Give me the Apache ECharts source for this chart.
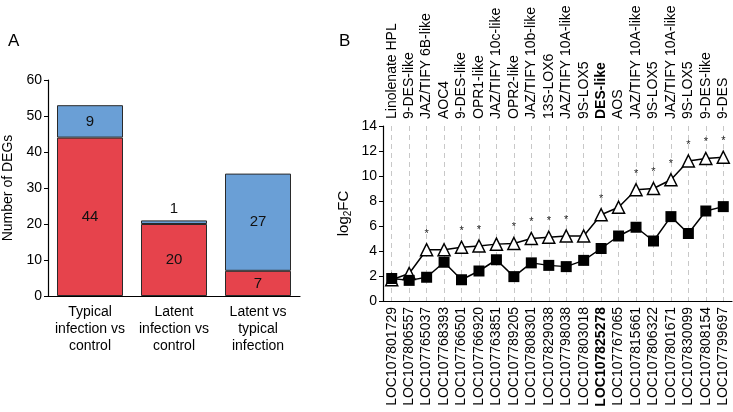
<!DOCTYPE html>
<html>
<head>
<meta charset="utf-8">
<script src="https://cdn.jsdelivr.net/npm/echarts@6/dist/echarts.min.js"></script>
<style>
    html, body { margin: 0; padding: 0; background: #fff; }
    #chart { width: 733px; height: 412px; }
</style>
</head>
<body>
<div id="chart"></div>
<script>
    // panel A: DEG counts
    const groups = ['Typical\ninfection vs\ncontrol', 'Latent\ninfection vs\ncontrol', 'Latent vs\ntypical\ninfection'];
    const upDEGs = [44, 20, 7];
    const downDEGs = [9, 1, 27];

    // panel B: log2FC per gene
    const geneNames = ['Linolenate HPL', '9-DES-like', 'JAZ/TIFY 6B-like', 'AOC4', '9-DES-like', 'OPR1-like',
        'JAZ/TIFY 10c-like', 'OPR2-like', 'JAZ/TIFY 10b-like', '13S-LOX6', 'JAZ/TIFY 10A-like', '9S-LOX5',
        'DES-like', 'AOS', 'JAZ/TIFY 10A-like', '9S-LOX5', 'JAZ/TIFY 10A-like', '9S-LOX5', '9-DES-like', '9-DES'];
    const geneIds = ['LOC107801729', 'LOC107806557', 'LOC107765037', 'LOC107768393', 'LOC107766501', 'LOC107766920',
        'LOC107763851', 'LOC107789205', 'LOC107808301', 'LOC107829038', 'LOC107798038', 'LOC107803018',
        'LOC107825278', 'LOC107767065', 'LOC107815661', 'LOC107806322', 'LOC107801671', 'LOC107830099',
        'LOC107808154', 'LOC107799697'];
    const triangleFC = [1.7, 2.2, 4.1, 4.1, 4.3, 4.4, 4.55, 4.6, 5.0, 5.1, 5.2, 5.2,
        6.9, 7.5, 8.9, 9.0, 9.7, 11.2, 11.4, 11.5];
    const squareFC = [1.8, 1.65, 1.9, 3.1, 1.7, 2.4, 3.3, 1.95, 3.05, 2.85, 2.75, 3.25,
        4.2, 5.2, 5.9, 4.8, 6.75, 5.4, 7.2, 7.55];
    const starred = [2, 4, 5, 7, 8, 9, 10, 12, 14, 15, 16, 17, 18, 19];
    const boldIndex = 12;

    let myChart = echarts.init(document.getElementById('chart'))

    const font = 'Liberation Sans, Arial, sans-serif'

    function boldFmt(value, index) {
        return index === boldIndex ? '{b|' + value + '}' : value
    }

    myChart.setOption({
        animation: false,
        textStyle: { fontFamily: font },
        title: [
            { text: 'A', left: 3, top: 28, textStyle: { fontSize: 17, fontWeight: 'normal', color: '#000', fontFamily: font } },
            { text: 'B', left: 334, top: 28, textStyle: { fontSize: 17, fontWeight: 'normal', color: '#000', fontFamily: font } }
        ],
        grid: [
            { left: 48, top: 80, width: 252, height: 216 },
            { left: 383, top: 126, width: 349, height: 175 }
        ],
        xAxis: [
            {
                type: 'category',
                gridIndex: 0,
                data: groups,
                axisLine: { lineStyle: { color: '#000', width: 1.2 } },
                axisTick: { show: false },
                axisLabel: { interval: 0, color: '#000', fontSize: 14, lineHeight: 17, margin: 8 }
            },
            {
                type: 'category',
                gridIndex: 1,
                position: 'bottom',
                data: geneIds,
                axisLine: { lineStyle: { color: '#000', width: 1.2 } },
                axisTick: { show: false },
                axisLabel: {
                    rotate: 90, interval: 0, color: '#000', fontSize: 14, margin: 6,
                    formatter: boldFmt,
                    rich: { b: { fontWeight: 'bold', fontSize: 14, color: '#000' } }
                },
                splitLine: {
                    show: true,
                    alignWithLabel: true,
                    lineStyle: { color: '#c8c8c8', type: [5, 4], width: 1 }
                }
            },
            {
                type: 'category',
                gridIndex: 1,
                position: 'top',
                data: geneNames,
                axisLine: { show: false },
                axisTick: { show: false },
                axisLabel: {
                    rotate: -90, interval: 0, color: '#000', fontSize: 14, margin: 7,
                    formatter: boldFmt,
                    rich: { b: { fontWeight: 'bold', fontSize: 14, color: '#000' } }
                }
            }
        ],
        yAxis: [
            {
                type: 'value',
                gridIndex: 0,
                min: 0,
                max: 60,
                interval: 10,
                name: 'Number of DEGs',
                nameLocation: 'middle',
                nameGap: 33,
                nameTextStyle: { color: '#000', fontSize: 14 },
                axisLine: { show: true, lineStyle: { color: '#000', width: 1.2 } },
                axisTick: { show: true, length: 4, lineStyle: { color: '#000' } },
                axisLabel: { color: '#000', fontSize: 14, margin: 6 },
                splitLine: { show: false }
            },
            {
                type: 'value',
                gridIndex: 1,
                min: 0,
                max: 14,
                interval: 2,
                name: 'log{s|2}FC',
                nameLocation: 'middle',
                nameGap: 30,
                nameTextStyle: {
                    color: '#000', fontSize: 15,
                    rich: { s: { fontSize: 10, verticalAlign: 'bottom', padding: [9, 0, 0, 0], color: '#000' } }
                },
                axisLine: { show: true, lineStyle: { color: '#000', width: 1.2 } },
                axisTick: { show: true, length: 4, lineStyle: { color: '#000' } },
                axisLabel: { color: '#000', fontSize: 14, margin: 6 },
                splitLine: { show: false }
            }
        ],
        series: [
            {
                type: 'bar',
                stack: 'degs',
                xAxisIndex: 0,
                yAxisIndex: 0,
                barWidth: 66,
                data: upDEGs,
                itemStyle: { color: '#e6434c', borderColor: '#2a2a2a', borderWidth: 1 },
                label: { show: true, position: 'inside', color: '#111', fontSize: 15 }
            },
            {
                type: 'bar',
                stack: 'degs',
                xAxisIndex: 0,
                yAxisIndex: 0,
                barWidth: 66,
                data: downDEGs.map(function (v) {
                    return v < 3 ? { value: v, label: { position: 'top', distance: 4 } } : v
                }),
                itemStyle: { color: '#6a9fd6', borderColor: '#2a2a2a', borderWidth: 1 },
                label: { show: true, position: 'inside', color: '#111', fontSize: 15 }
            },
            {
                type: 'line',
                xAxisIndex: 1,
                yAxisIndex: 1,
                data: triangleFC,
                symbol: 'triangle',
                symbolSize: 12,
                lineStyle: { color: '#000', width: 1.5 },
                itemStyle: { color: '#fff', borderColor: '#000', borderWidth: 1.5 },
                label: {
                    show: true,
                    position: 'top',
                    distance: 4,
                    fontSize: 11,
                    color: '#222',
                    formatter: function (p) {
                        return starred.indexOf(p.dataIndex) >= 0 ? '*' : ''
                    }
                }
            },
            {
                type: 'line',
                xAxisIndex: 1,
                yAxisIndex: 1,
                data: squareFC,
                symbol: 'rect',
                symbolSize: 11,
                lineStyle: { color: '#000', width: 1.5 },
                itemStyle: { color: '#000', borderColor: '#000', borderWidth: 0 }
            }
        ]
    })
</script>
</body>
</html>
